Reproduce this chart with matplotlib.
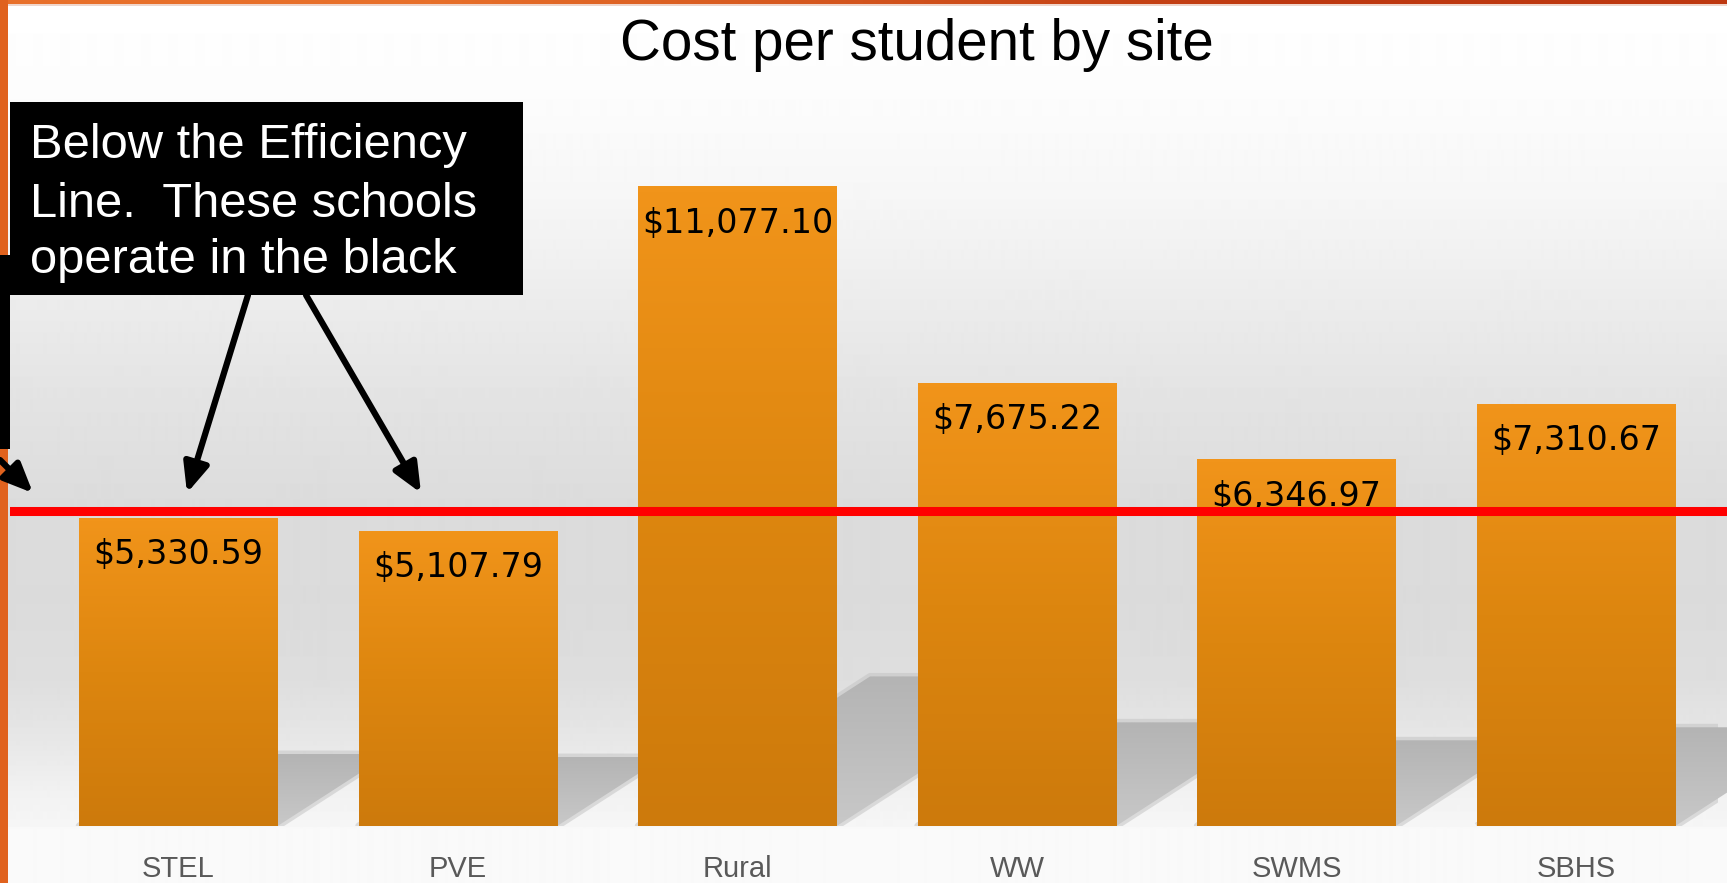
import numpy as np
import matplotlib
matplotlib.use("Agg")
import matplotlib.pyplot as plt
from matplotlib.colors import LinearSegmentedColormap
from matplotlib.patches import Rectangle, Polygon, FancyArrowPatch

# data
sites = ["STEL", "PVE", "Rural", "WW", "SWMS", "SBHS"]
cost = [5330.59, 5107.79, 11077.10, 7675.22, 6346.97, 7310.67]
cost_labels = ["$5,330.59", "$5,107.79", "$11,077.10", "$7,675.22", "$6,346.97", "$7,310.67"]
efficiency_line = 5450
title = "Cost per student by site"
note_lines = ["Below the Efficiency", "Line.  These schools", "operate in the black"]

plt.rcParams["font.family"] = ["Liberation Sans", "DejaVu Sans"]

W, H = 1727, 883
fig = plt.figure(figsize=(W / 100, H / 100), dpi=100)

# slide background (vertical grey gradient, light floor under the bars)
bg = fig.add_axes([0, 0, 1, 1], zorder=0)
stop_y = [0, 100, 200, 300, 400, 500, 600, 680, 740, 790, 826, 827, 883]
stop_g = [255, 252, 246, 236, 227, 220, 219, 222, 231, 241, 246, 249, 250]
g = np.interp(np.arange(H), stop_y, stop_g) / 255
bg.imshow(np.repeat(g[:, None], 2, axis=1), cmap="gray", vmin=0, vmax=1,
          aspect="auto", extent=[0, W, H, 0], interpolation="bilinear")
top_border = np.array([[[232, 112, 42], [190, 56, 16]]]) / 255
bg.imshow(top_border, aspect="auto", extent=[0, W, 4, 0], interpolation="bilinear")
bg.add_patch(Rectangle((0, 4), W, 2, color="#efd6cc", lw=0))
bg.set_xlim(0, W)
bg.set_ylim(H, 0)
bg.axis("off")

# chart area: base line 826 px from top, 0.05771 px per dollar
ppu = 0.05771
slot = 279.5
ax = fig.add_axes([10 / W, 57 / H, (W - 10) / W, 814 / H], zorder=1)
ax.patch.set_alpha(0)
x = np.arange(len(sites))
xlim = (-0.5 - (38.65 - 10) / slot, 5.5 + (W - 1715.8) / slot)
ymax = 814 / ppu

bars = ax.bar(x, cost, width=0.71, color="none", edgecolor="none", zorder=3)

orange = LinearSegmentedColormap.from_list("orange", ["#cd7a0c", "#dd860f", "#f1941a"])
shade = LinearSegmentedColormap.from_list("shade", ["#c8c8c8", "#b4b4b4"])
grad = np.linspace(0, 1, 100)[:, None]
clip = Rectangle((xlim[0], 0), 5.508 - xlim[0], ymax, transform=ax.transData)
for b, v in zip(bars, cost):
    x0, x1 = b.get_x(), b.get_x() + b.get_width()
    ax.imshow(grad, cmap=orange, aspect="auto", extent=[x0, x1, 0, v],
              origin="lower", zorder=3, interpolation="bilinear")
    # perspective shadow cast behind the bar
    hs = 0.234 * v
    d = 1.55 * hs * ppu / slot
    pts = [(x0, 0), (x1, 0), (x1 + d, hs), (x0 + d, hs)]
    soft = Polygon(pts, closed=True, facecolor="none", edgecolor="#c4c4c4",
                   lw=5, alpha=0.55, zorder=1, joinstyle="round")
    ax.add_patch(soft)
    soft.set_clip_path(clip)
    core = Polygon(pts, closed=True, facecolor="none", edgecolor="none")
    ax.add_patch(core)
    sh = ax.imshow(grad, cmap=shade, aspect="auto", extent=[x0, x1 + d, 0, hs],
                   origin="lower", zorder=1.1, interpolation="bilinear")
    sh.set_clip_path(core)

for xi, v, lbl in zip(x, cost, cost_labels):
    ax.annotate(lbl, (xi, v), xytext=(0, -33.1), textcoords="offset points",
                ha="center", va="baseline", fontsize=24, color="black", zorder=4,
                family=["DejaVu Sans"])
    ax.annotate(sites[xi], (xi, 0), xytext=(0, -36.7), textcoords="offset points",
                ha="center", va="baseline", fontsize=21, color="#595959",
                family=["Liberation Sans Narrow", "Liberation Sans"],
                annotation_clip=False)

ax.axhline(efficiency_line, color="#ff0000", lw=6.5, zorder=5)

ax.set_xlim(*xlim)
ax.set_ylim(0, ymax)
ax.axis("off")

# title
fig.text(917 / W, 1 - 60 / H, title, ha="center", va="baseline", fontsize=40.7, color="black")

# borders and call-out box
def px_rect(x0, y0, x1, y1, color, z):
    fig.add_artist(Rectangle((x0 / W, 1 - y1 / H), (x1 - x0) / W, (y1 - y0) / H,
                             color=color, lw=0, transform=fig.transFigure, zorder=z))

px_rect(0, 0, 8, H, "#e0621e", 9)
px_rect(0, 255, 10, 449, "black", 10)
px_rect(10, 102, 523, 295, "black", 10)
for line, base in zip(note_lines, [158, 217, 273]):
    fig.text(30 / W, 1 - base / H, line, ha="left", va="baseline", fontsize=35.2,
             color="white", zorder=11)

arrows = [((248, 295), (187, 493)), ((306, 295), (421, 493)), ((0, 460), (33, 493))]
for (sx, sy), (tx, ty) in arrows:
    fig.add_artist(FancyArrowPatch((sx / W, 1 - sy / H), (tx / W, 1 - ty / H),
                                   transform=fig.transFigure,
                                   arrowstyle="-|>,head_length=1.1,head_width=0.48",
                                   mutation_scale=16, lw=4.5, color="black",
                                   shrinkA=0, shrinkB=0, zorder=12))

fig.savefig("out.png", dpi=100)
